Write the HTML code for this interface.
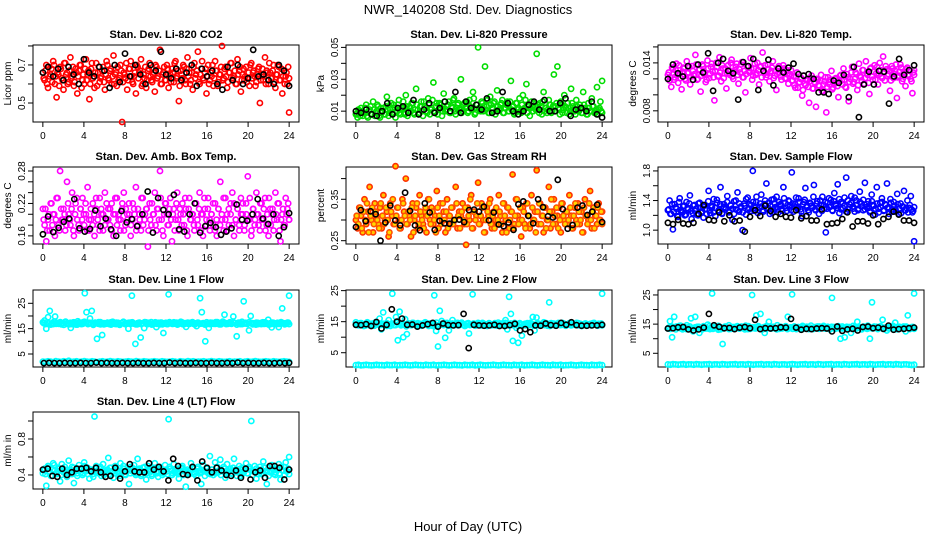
<!DOCTYPE html>
<html><head><meta charset="utf-8"><title>NWR_140208 Std. Dev. Diagnostics</title>
<style>html,body{margin:0;padding:0;background:#fff}svg{display:block;font-family:"Liberation Sans",Arial,sans-serif}</style>
</head><body>
<svg id="chart" width="936" height="540" viewBox="0 0 936 540" xmlns="http://www.w3.org/2000/svg">
<rect width="936" height="540" fill="#fff"/>
<text x="468" y="14" font-size="13" text-anchor="middle">NWR_140208 Std. Dev. Diagnostics</text>
<text x="468" y="531" font-size="13" text-anchor="middle">Hour of Day (UTC)</text>
</svg>
<script>
const xTicks = [0,4,8,12,16,20,24];
const co2Red = [0.66,0.62,0.70,0.58,0.64,0.68,0.72,0.60,0.53,0.65,0.69,0.63,0.57,0.71,0.66,0.61,0.74,0.64,0.59,0.68,0.55,0.67,0.70,0.62,0.60,0.73,0.65,0.52,0.68,0.63,0.58,0.71,0.66,0.61,0.64,0.69,0.57,0.72,0.63,0.67,0.60,0.75,0.65,0.59,0.62,0.70,0.40,0.66,0.63,0.57,0.68,0.72,0.61,0.64,0.55,0.69,0.66,0.73,0.60,0.63,0.58,0.67,0.71,0.62,0.65,0.56,0.69,0.64,0.78,0.60,0.66,0.62,0.70,0.58,0.65,0.68,0.61,0.72,0.64,0.51,0.67,0.63,0.69,0.60,0.74,0.66,0.62,0.57,0.71,0.65,0.77,0.60,0.68,0.63,0.66,0.55,0.70,0.62,0.64,0.59,0.72,0.67,0.61,0.65,0.80,0.63,0.69,0.58,0.66,0.71,0.62,0.64,0.60,0.73,0.67,0.56,0.65,0.62,0.69,0.63,0.59,0.71,0.66,0.64,0.61,0.68,0.50,0.65,0.62,0.74,0.67,0.60,0.66,0.63,0.70,0.58,0.65,0.69,0.62,0.55,0.67,0.64,0.60,0.45];
const co2Red2 = [0.63,0.67,0.60,0.69,0.65,0.61,0.70,0.64,0.66,0.59,0.68,0.62,0.71,0.65,0.60,0.67,0.63,0.69,0.61,0.66,0.64,0.70,0.58,0.65,0.68,0.62,0.67,0.60,0.71,0.64,0.66,0.59,0.69,0.63,0.67,0.61,0.65,0.70,0.62,0.68,0.64,0.60,0.66,0.69,0.63,0.67,0.61,0.65,0.71,0.62,0.68,0.64,0.60,0.66,0.70,0.63,0.67,0.59,0.65,0.69,0.62,0.68,0.64,0.61,0.66,0.70,0.63,0.67,0.60,0.65,0.69,0.62,0.68,0.64,0.61,0.66,0.71,0.63,0.67,0.59,0.65,0.70,0.62,0.68,0.64,0.60,0.66,0.69,0.63,0.67,0.61,0.65,0.72,0.62,0.68,0.64,0.60,0.66,0.70,0.63,0.67,0.59,0.65,0.69,0.62,0.68,0.64,0.61,0.66,0.71,0.63,0.67,0.60,0.65,0.69,0.62,0.68,0.64,0.61,0.66,0.70,0.63,0.67,0.59,0.65,0.69,0.62,0.68,0.64,0.60,0.66,0.71,0.63,0.67,0.61,0.65,0.70,0.62,0.68,0.64,0.60,0.66,0.69,0.63];
const co2Black = [0.66,0.69,0.64,0.68,0.62,0.69,0.65,0.60,0.73,0.66,0.64,0.69,0.67,0.58,0.70,0.61,0.76,0.64,0.70,0.65,0.60,0.70,0.67,0.77,0.65,0.63,0.68,0.62,0.66,0.70,0.59,0.68,0.64,0.67,0.60,0.57,0.69,0.62,0.70,0.60,0.63,0.78,0.64,0.65,0.62,0.60,0.70,0.67,0.59];
const presGreen = [0.008,0.006,0.010,0.012,0.007,0.009,0.014,0.006,0.011,0.008,0.016,0.007,0.010,0.013,0.006,0.009,0.012,0.008,0.019,0.007,0.011,0.009,0.014,0.006,0.010,0.017,0.008,0.012,0.009,0.020,0.007,0.013,0.010,0.015,0.008,0.024,0.011,0.009,0.016,0.007,0.013,0.010,0.018,0.008,0.012,0.028,0.009,0.015,0.011,0.014,0.007,0.021,0.010,0.013,0.016,0.009,0.012,0.018,0.008,0.014,0.011,0.030,0.010,0.015,0.013,0.009,0.017,0.012,0.022,0.008,0.014,0.050,0.011,0.016,0.010,0.038,0.013,0.009,0.019,0.012,0.015,0.008,0.023,0.011,0.014,0.017,0.009,0.012,0.016,0.010,0.029,0.013,0.008,0.015,0.011,0.018,0.009,0.020,0.012,0.027,0.014,0.007,0.016,0.010,0.013,0.046,0.011,0.015,0.008,0.022,0.012,0.009,0.017,0.014,0.010,0.033,0.013,0.038,0.011,0.016,0.009,0.020,0.012,0.015,0.008,0.024,0.013,0.010,0.017,0.011,0.014,0.009,0.022,0.012,0.008,0.015,0.010,0.018,0.013,0.009,0.025,0.011,0.016,0.029];
const presGreen2 = [0.008,0.011,0.007,0.010,0.009,0.012,0.007,0.010,0.013,0.008,0.011,0.009,0.014,0.007,0.012,0.010,0.008,0.013,0.011,0.009,0.015,0.008,0.012,0.010,0.014,0.009,0.011,0.016,0.008,0.013,0.010,0.012,0.015,0.009,0.011,0.014,0.008,0.013,0.010,0.016,0.012,0.009,0.014,0.011,0.017,0.010,0.013,0.008,0.015,0.012,0.010,0.016,0.011,0.014,0.009,0.013,0.017,0.010,0.012,0.015,0.011,0.009,0.014,0.012,0.016,0.010,0.013,0.011,0.018,0.009,0.014,0.012,0.010,0.015,0.013,0.011,0.017,0.009,0.014,0.012,0.016,0.010,0.013,0.011,0.015,0.009,0.012,0.014,0.010,0.016,0.011,0.013,0.009,0.015,0.012,0.010,0.014,0.011,0.017,0.009,0.013,0.012,0.010,0.015,0.011,0.014,0.009,0.013,0.016,0.010,0.012,0.011,0.014,0.009,0.013,0.010,0.015,0.012,0.008,0.014,0.011,0.013,0.009,0.012,0.010,0.015,0.011,0.008,0.013,0.010,0.012,0.009,0.014,0.011,0.008,0.012,0.010,0.013,0.009,0.011,0.008,0.012,0.010,0.009];
const presBlack = [0.010,0.009,0.011,0.008,0.007,0.010,0.015,0.008,0.012,0.013,0.009,0.017,0.008,0.011,0.015,0.009,0.012,0.016,0.010,0.022,0.009,0.016,0.012,0.014,0.011,0.018,0.009,0.010,0.022,0.015,0.010,0.008,0.010,0.014,0.016,0.011,0.017,0.010,0.010,0.015,0.018,0.007,0.011,0.012,0.010,0.016,0.008,0.006];
const tempMag = [0.0125,0.0118,0.0110,0.0132,0.0122,0.0139,0.0115,0.0127,0.0107,0.0134,0.0120,0.0142,0.0128,0.0113,0.0136,0.0124,0.0150,0.0119,0.0131,0.0104,0.0138,0.0126,0.0116,0.0143,0.0121,0.0135,0.0129,0.0093,0.0140,0.0123,0.0147,0.0117,0.0133,0.0127,0.0108,0.0137,0.0125,0.0144,0.0120,0.0131,0.0139,0.0114,0.0128,0.0141,0.0122,0.0103,0.0135,0.0130,0.0146,0.0119,0.0133,0.0125,0.0140,0.0113,0.0136,0.0153,0.0127,0.0122,0.0138,0.0117,0.0130,0.0142,0.0124,0.0106,0.0134,0.0128,0.0119,0.0137,0.0121,0.0131,0.0114,0.0126,0.0118,0.0123,0.0109,0.0128,0.0115,0.0120,0.0099,0.0124,0.0112,0.0118,0.0090,0.0121,0.0108,0.0116,0.0085,0.0119,0.0111,0.0125,0.0104,0.0117,0.0078,0.0122,0.0113,0.0130,0.0109,0.0120,0.0115,0.0097,0.0124,0.0118,0.0133,0.0110,0.0126,0.0092,0.0120,0.0135,0.0116,0.0128,0.0106,0.0139,0.0122,0.0131,0.0114,0.0142,0.0125,0.0101,0.0134,0.0119,0.0137,0.0127,0.0113,0.0140,0.0123,0.0148,0.0118,0.0132,0.0126,0.0105,0.0136,0.0121,0.0130,0.0096,0.0124,0.0138,0.0117,0.0129,0.0111,0.0134,0.0125,0.0120,0.0102,0.0131];
const tempMag2 = [0.0128,0.0122,0.0134,0.0119,0.0131,0.0125,0.0137,0.0121,0.0129,0.0133,0.0118,0.0127,0.0135,0.0123,0.0130,0.0126,0.0138,0.0120,0.0132,0.0124,0.0136,0.0128,0.0119,0.0133,0.0126,0.0139,0.0122,0.0130,0.0135,0.0124,0.0128,0.0137,0.0121,0.0133,0.0127,0.0131,0.0140,0.0123,0.0129,0.0135,0.0125,0.0132,0.0138,0.0122,0.0130,0.0126,0.0136,0.0128,0.0133,0.0124,0.0139,0.0127,0.0131,0.0135,0.0122,0.0129,0.0137,0.0125,0.0132,0.0128,0.0134,0.0121,0.0130,0.0126,0.0136,0.0123,0.0129,0.0133,0.0120,0.0127,0.0124,0.0131,0.0118,0.0112,0.0123,0.0109,0.0116,0.0121,0.0106,0.0114,0.0119,0.0110,0.0117,0.0124,0.0108,0.0115,0.0120,0.0112,0.0118,0.0105,0.0113,0.0122,0.0110,0.0116,0.0119,0.0107,0.0114,0.0121,0.0111,0.0117,0.0125,0.0113,0.0119,0.0109,0.0122,0.0116,0.0128,0.0114,0.0120,0.0126,0.0112,0.0124,0.0118,0.0131,0.0121,0.0127,0.0115,0.0133,0.0123,0.0129,0.0119,0.0135,0.0125,0.0131,0.0121,0.0128,0.0136,0.0124,0.0130,0.0118,0.0133,0.0126,0.0138,0.0122,0.0129,0.0134,0.0120,0.0127,0.0132,0.0124,0.0130,0.0117,0.0128,0.0125];
const tempBlack = [0.0120,0.0138,0.0127,0.0123,0.0136,0.0119,0.0138,0.0128,0.0152,0.0105,0.0140,0.0145,0.0130,0.0127,0.0094,0.0141,0.0136,0.0145,0.0106,0.0130,0.0144,0.0112,0.0133,0.0128,0.0134,0.0139,0.0126,0.0124,0.0126,0.0120,0.0103,0.0103,0.0101,0.0118,0.0115,0.0125,0.0097,0.0135,0.0072,0.0113,0.0129,0.0113,0.0130,0.0129,0.0089,0.0123,0.0145,0.0125,0.0131,0.0137];
const ambMag = [0.21,0.18,0.15,0.19,0.17,0.22,0.20,0.16,0.23,0.18,0.28,0.19,0.21,0.17,0.26,0.20,0.18,0.24,0.16,0.22,0.19,0.17,0.21,0.23,0.18,0.20,0.25,0.17,0.19,0.22,0.16,0.21,0.18,0.23,0.20,0.17,0.24,0.19,0.21,0.18,0.22,0.16,0.20,0.23,0.19,0.17,0.21,0.24,0.18,0.20,0.22,0.16,0.19,0.21,0.25,0.18,0.20,0.17,0.23,0.19,0.21,0.14,0.22,0.18,0.20,0.24,0.17,0.21,0.28,0.19,0.16,0.22,0.20,0.18,0.23,0.15,0.21,0.19,0.24,0.17,0.20,0.22,0.18,0.21,0.16,0.23,0.19,0.20,0.17,0.22,0.18,0.24,0.20,0.16,0.21,0.19,0.23,0.17,0.20,0.18,0.22,0.16,0.21,0.26,0.19,0.17,0.23,0.20,0.18,0.22,0.24,0.16,0.19,0.21,0.18,0.23,0.20,0.17,0.22,0.27,0.19,0.16,0.21,0.18,0.24,0.20,0.17,0.22,0.19,0.23,0.18,0.16,0.21,0.20,0.17,0.24,0.19,0.22,0.15,0.20,0.18,0.23,0.21,0.19];
const ambMag2 = [0.19,0.21,0.17,0.20,0.22,0.18,0.20,0.19,0.23,0.17,0.21,0.19,0.20,0.18,0.22,0.19,0.21,0.17,0.20,0.23,0.18,0.21,0.19,0.20,0.22,0.17,0.19,0.21,0.18,0.20,0.23,0.19,0.17,0.21,0.20,0.18,0.22,0.19,0.21,0.17,0.20,0.23,0.18,0.20,0.19,0.22,0.17,0.21,0.19,0.20,0.18,0.22,0.20,0.17,0.21,0.19,0.23,0.18,0.20,0.21,0.17,0.19,0.22,0.20,0.18,0.21,0.19,0.23,0.17,0.20,0.22,0.18,0.21,0.19,0.20,0.17,0.22,0.19,0.21,0.18,0.20,0.23,0.17,0.21,0.19,0.20,0.18,0.22,0.19,0.21,0.17,0.20,0.23,0.18,0.21,0.19,0.20,0.22,0.17,0.19,0.21,0.18,0.20,0.23,0.19,0.17,0.21,0.20,0.18,0.22,0.19,0.21,0.17,0.20,0.22,0.18,0.20,0.19,0.23,0.17,0.21,0.19,0.20,0.18,0.22,0.19,0.21,0.17,0.20,0.23,0.18,0.21,0.19,0.20,0.22,0.17,0.19,0.21,0.18,0.20,0.22,0.19];
const ambBlack = [0.163,0.196,0.167,0.175,0.186,0.192,0.228,0.174,0.168,0.173,0.207,0.178,0.192,0.172,0.160,0.206,0.185,0.191,0.178,0.200,0.242,0.166,0.230,0.208,0.200,0.236,0.172,0.168,0.200,0.220,0.166,0.178,0.184,0.176,0.162,0.168,0.174,0.218,0.190,0.188,0.200,0.228,0.192,0.182,0.200,0.160,0.176,0.202];
const rhOrange = [0.30,0.28,0.33,0.31,0.27,0.35,0.29,0.32,0.38,0.30,0.27,0.34,0.31,0.29,0.33,0.28,0.36,0.30,0.32,0.26,0.34,0.31,0.29,0.43,0.33,0.30,0.28,0.35,0.32,0.40,0.29,0.31,0.26,0.34,0.30,0.33,0.28,0.36,0.31,0.29,0.32,0.27,0.35,0.30,0.33,0.29,0.31,0.37,0.28,0.34,0.30,0.32,0.27,0.35,0.31,0.29,0.33,0.30,0.38,0.28,0.32,0.31,0.34,0.29,0.24,0.33,0.30,0.36,0.28,0.32,0.31,0.39,0.29,0.34,0.30,0.27,0.33,0.31,0.35,0.28,0.32,0.30,0.29,0.36,0.31,0.27,0.34,0.30,0.33,0.28,0.32,0.41,0.29,0.35,0.31,0.30,0.26,0.33,0.29,0.34,0.31,0.28,0.36,0.30,0.32,0.42,0.29,0.34,0.31,0.27,0.33,0.30,0.38,0.28,0.32,0.35,0.29,0.31,0.33,0.27,0.34,0.30,0.32,0.29,0.36,0.31,0.28,0.33,0.30,0.34,0.29,0.32,0.27,0.35,0.31,0.30,0.37,0.28,0.33,0.31,0.29,0.34,0.30,0.32];
const rhOrange2 = [0.31,0.29,0.33,0.28,0.32,0.30,0.34,0.27,0.31,0.33,0.29,0.32,0.30,0.28,0.34,0.31,0.29,0.33,0.30,0.27,0.32,0.35,0.29,0.31,0.33,0.28,0.30,0.34,0.31,0.29,0.32,0.30,0.33,0.27,0.31,0.34,0.29,0.32,0.30,0.28,0.33,0.31,0.35,0.29,0.32,0.30,0.27,0.33,0.31,0.29,0.34,0.30,0.32,0.28,0.31,0.33,0.29,0.30,0.34,0.31,0.28,0.32,0.30,0.33,0.29,0.31,0.35,0.28,0.32,0.30,0.34,0.29,0.31,0.33,0.27,0.30,0.32,0.34,0.29,0.31,0.28,0.33,0.30,0.32,0.29,0.34,0.31,0.27,0.33,0.30,0.32,0.28,0.31,0.35,0.29,0.33,0.30,0.32,0.28,0.34,0.31,0.29,0.33,0.30,0.27,0.32,0.34,0.29,0.31,0.33,0.28,0.30,0.32,0.35,0.29,0.31,0.33,0.28,0.30,0.34,0.31,0.29,0.32,0.30,0.33,0.28,0.31,0.34,0.29,0.32,0.30,0.27,0.33,0.31,0.29,0.34,0.30,0.32,0.28,0.31,0.33,0.30,0.32,0.29];
const rhBlack = [0.283,0.324,0.297,0.321,0.314,0.250,0.294,0.335,0.299,0.287,0.366,0.322,0.287,0.275,0.340,0.318,0.276,0.298,0.292,0.291,0.300,0.301,0.295,0.324,0.325,0.320,0.332,0.299,0.318,0.289,0.285,0.294,0.276,0.338,0.345,0.310,0.292,0.350,0.331,0.309,0.306,0.397,0.326,0.279,0.288,0.330,0.335,0.312,0.320,0.337,0.295];
const flowBlue = [1.27,1.40,1.22,1.01,1.35,1.29,1.18,1.43,1.25,1.32,1.20,1.38,1.28,1.47,1.15,1.33,1.26,1.21,1.36,1.30,1.24,1.17,1.34,1.28,1.53,1.23,1.31,1.42,1.19,1.37,1.27,1.58,1.22,1.35,1.30,1.46,1.24,1.33,1.14,1.39,1.28,1.51,1.25,1.32,1.00,1.36,1.21,1.44,1.29,1.34,1.80,1.26,1.38,1.23,1.31,1.48,1.27,1.35,1.63,1.30,1.22,1.41,1.28,1.36,1.45,1.24,1.33,1.29,1.58,1.37,1.26,1.40,1.32,1.78,1.25,1.35,1.31,1.43,1.28,1.19,1.38,1.57,1.33,1.24,1.36,1.30,1.61,1.27,1.39,1.22,1.34,1.45,1.29,0.97,1.37,1.31,1.41,1.26,1.50,1.33,1.62,1.23,1.38,1.30,1.44,1.71,1.28,1.35,1.46,1.32,1.25,1.40,1.29,1.52,1.36,1.27,1.64,1.31,1.39,1.24,1.48,1.34,1.21,1.58,1.29,1.37,1.43,1.26,1.35,1.63,1.31,1.42,1.25,1.38,1.28,1.49,1.22,1.36,1.32,1.53,1.27,1.40,1.30,1.46,1.24,0.85];
const flowBlue2 = [1.28,1.22,1.35,1.25,1.31,1.19,1.38,1.27,1.24,1.33,1.21,1.30,1.36,1.26,1.23,1.34,1.29,1.20,1.37,1.25,1.32,1.28,1.22,1.39,1.27,1.33,1.24,1.30,1.41,1.26,1.35,1.23,1.31,1.28,1.38,1.25,1.34,1.29,1.22,1.40,1.27,1.36,1.31,1.24,1.33,1.42,1.28,1.35,1.26,1.38,1.30,1.45,1.27,1.36,1.32,1.25,1.40,1.29,1.37,1.33,1.24,1.42,1.31,1.28,1.38,1.35,1.26,1.43,1.30,1.34,1.39,1.27,1.36,1.32,1.44,1.29,1.38,1.25,1.35,1.41,1.31,1.27,1.37,1.33,1.45,1.28,1.36,1.30,1.40,1.26,1.34,1.38,1.29,1.43,1.32,1.27,1.39,1.35,1.30,1.42,1.28,1.36,1.33,1.25,1.40,1.31,1.37,1.29,1.44,1.34,1.27,1.38,1.32,1.41,1.28,1.35,1.30,1.26,1.39,1.33,1.29,1.36,1.24,1.31,1.38,1.27,1.34,1.30,1.22,1.37,1.28,1.33,1.25,1.35,1.29,1.23,1.32,1.27,1.30,1.24,1.34,1.28,1.26,1.31];
const flowBlack = [1.10,1.08,1.14,1.09,1.08,1.10,1.22,1.34,1.14,1.13,1.24,1.12,1.20,1.12,1.13,0.98,1.18,1.27,1.19,1.33,1.26,1.18,1.22,1.18,1.17,1.27,1.16,1.19,1.13,1.13,1.28,1.08,1.09,1.10,1.15,1.24,1.05,1.12,1.12,1.09,1.20,1.08,1.15,1.18,1.25,1.21,1.13,1.13,1.10];
const line1Upper = [17.5,18.2,15.0,19.5,22.0,17.0,16.8,19.8,17.3,16.9,17.6,17.1,16.5,17.8,17.2,16.7,15.3,17.4,17.0,16.6,17.9,17.2,16.8,17.5,29.0,21.5,17.1,19.0,22.0,16.9,17.3,11.0,17.6,16.7,12.5,17.2,16.9,17.4,17.0,16.6,17.7,17.2,16.8,17.3,16.5,17.1,17.6,16.9,17.2,15.0,17.4,28.0,17.0,9.0,16.7,17.3,11.5,17.1,15.2,17.5,16.8,17.2,17.6,16.9,17.0,15.6,17.3,16.7,17.4,13.3,17.1,16.8,28.5,17.2,16.9,17.5,17.0,16.6,17.3,17.7,16.8,17.1,15.7,17.4,16.9,17.2,17.0,16.7,16.0,17.3,27.0,21.5,17.1,10.0,16.8,15.3,17.4,17.0,16.9,17.6,17.2,16.7,17.3,17.8,20.5,17.1,16.9,17.5,17.0,19.8,17.2,12.0,17.4,16.8,17.7,25.8,17.1,16.9,14.3,20.0,17.2,17.0,16.6,17.3,17.1,16.8,17.5,16.9,17.2,18.5,16.7,15.5,17.3,17.0,16.8,15.6,17.2,23.0,17.1,16.9,17.4,28.0];
const line1Upper2 = [17.2,16.8,17.5,17.0,16.6,17.3,17.8,16.9,17.1,17.4,16.7,17.2,17.6,16.9,17.0,17.3,16.8,17.5,17.1,16.6,17.4,17.0,16.9,17.7,17.2,16.8,17.3,17.0,16.5,17.4,17.1,16.9,17.6,17.2,16.7,17.0,17.3,16.8,17.5,17.1,16.9,17.4,17.0,16.6,17.2,17.7,16.8,17.1,17.3,16.9,17.5,17.0,16.7,17.2,17.4,16.8,17.1,17.6,16.9,17.3,17.0,16.6,17.2,17.5,16.9,17.1,17.4,16.7,17.0,17.3,16.8,17.6,17.2,16.9,17.0,17.4,16.8,17.1,17.5,16.7,17.2,17.0,16.9,17.3,17.6,16.8,17.1,17.4,16.9,17.0,17.2,16.6,17.5,17.1,16.8,17.3,17.0,16.9,17.6,17.2,16.7,17.1,17.4,16.8,17.0,17.3,16.9,17.5,17.2,16.6,17.1,17.4,16.8,17.0,17.3,16.9,17.6,17.2,16.7,17.1,17.4,16.8,17.0,17.3,16.9,17.5,17.1,16.6,17.2,17.4,16.8,17.0,17.3,16.9,17.6,17.2,16.7,17.1,17.4,16.8];
const line1Lower = [2.0,1.9,2.1,2.0,1.8,2.2,2.0,1.9,2.1,2.0,2.3,1.9,2.0,2.1,1.9,2.0,2.2,2.0,1.9,2.1,2.0,1.8,2.0,2.1,1.9,2.0,2.2,2.0,1.9,2.1,2.0,1.9,2.0,2.1,2.0,1.9,2.2,2.0,1.9,2.1,2.0,1.9,2.0,2.1,2.0,1.9,2.1,2.0,1.9,2.0,2.1,2.0,1.8,2.1,2.0,1.9,2.2,2.0,2.1,1.9,2.0,2.0,2.1,1.9,2.0,2.2,2.0,1.9,2.1,2.0,1.9,2.0,2.1,1.9,2.0,2.0,2.1,1.8,2.0,2.1,1.9,2.0,2.2,2.0,1.9,2.0,2.1,2.0,1.9,2.1,2.0,1.9,2.0,2.1,2.0,1.9];
const line1Black = [1.4,1.5,1.4,1.4,1.5,1.4,1.4,1.5,1.4,1.4,1.6,1.4,1.5,1.4,1.4,1.5,1.4,1.4,1.5,1.4,1.4,1.5,1.4,1.4,1.6,1.4,1.5,1.4,1.4,1.5,1.4,1.4,1.5,1.4,1.4,1.5,1.4,1.6,1.4,1.5,1.4,1.4,1.5,1.4,1.4,1.5,1.4,1.5];
const line2Upper = [14.8,14.2,13.9,14.5,14.1,13.7,14.6,14.0,14.3,13.8,14.4,14.9,14.1,16.0,12.5,18.0,14.3,13.6,15.5,14.2,24.0,13.9,16.5,9.0,18.2,14.1,10.0,15.8,11.0,14.4,13.9,14.6,14.2,13.8,14.5,14.0,13.7,14.3,14.8,14.1,13.6,14.4,14.0,23.5,12.0,7.0,18.5,15.2,14.3,9.8,14.6,12.2,13.9,15.5,14.1,14.5,13.8,14.2,14.7,14.0,13.7,14.4,11.2,14.2,23.8,13.9,14.3,14.6,14.0,13.8,14.4,14.1,13.6,14.5,14.2,13.9,14.3,14.0,14.7,13.8,14.4,14.1,15.5,12.5,23.0,17.5,8.8,14.6,13.0,8.2,14.3,10.5,14.1,13.8,14.5,14.0,14.2,16.5,12.2,16.3,14.4,13.9,14.3,14.8,14.1,13.7,21.2,14.5,14.0,14.3,13.8,14.6,14.2,14.0,14.4,13.7,14.1,14.5,13.9,14.2,14.0,14.6,13.8,14.3,14.1,13.9,14.4,14.0,14.2,13.8,14.5,14.1,13.9,14.3,14.0,24.0];
const line2Upper2 = [14.2,13.8,14.5,14.0,13.6,14.3,14.8,13.9,14.1,14.4,13.7,14.2,14.6,13.9,14.0,14.3,13.8,14.5,14.1,13.6,14.4,14.0,13.9,14.7,14.2,13.8,14.3,14.0,13.5,14.4,14.1,13.9,14.6,14.2,13.7,14.0,14.3,13.8,14.5,14.1,13.9,14.4,14.0,13.6,14.2,14.7,13.8,14.1,14.3,13.9,14.5,14.0,13.7,14.2,14.4,13.8,14.1,14.6,13.9,14.3,14.0,13.6,14.2,14.5,13.9,14.1,14.4,13.7,14.0,14.3,13.8,14.6,14.2,13.9,14.0,14.4,13.8,14.1,14.5,13.7,14.2,14.0,13.9,14.3,14.6,13.8,14.1,14.4,13.9,14.0,14.2,13.6,14.5,14.1,13.8,14.3,14.0,13.9,14.6,14.2,13.7,14.1,14.4,13.8,14.0,14.3,13.9,14.5,14.2,13.6,14.1,14.4,13.8,14.0,14.3,13.9,14.6,14.2,13.7,14.1,14.4,13.8,14.0,14.3,13.9,14.5,14.1,13.6,14.2,14.4,13.8,14.0,14.3,13.9,14.6,14.2,13.7,14.1,14.4,13.8];
const line2Lower = [1.0,1.1,0.9,1.0,1.1,1.0,0.9,1.0,1.1,1.0,1.0,0.9,1.1,1.0,1.0,1.1,0.9,1.0,1.0,1.1,1.0,0.9,1.0,1.1,1.0,1.0,0.9,1.1,1.0,1.0,1.1,0.9,1.0,1.0,1.1,1.0,0.9,1.0,1.1,1.0,1.0,0.9,1.1,1.0,1.0,1.1,0.9,1.0,1.1,1.0,0.9,1.0,1.0,1.1,1.0,0.9,1.0,1.1,1.0,1.0,0.9,1.1,1.0,1.0,1.1,0.9,1.0,1.0,1.1,1.0,0.9,1.0,1.1,1.0,1.0,0.9,1.1,1.0,1.0,1.1,0.9,1.0,1.0,1.1,1.0,0.9,1.0,1.1,1.0,1.0,0.9,1.1,1.0,1.0,1.1,1.0];
const line2Black = [14.0,13.9,14.2,13.6,14.9,12.8,14.0,19.0,15.0,16.0,14.0,14.1,13.4,13.8,14.2,14.6,13.4,14.4,13.9,13.8,13.9,17.5,6.5,14.0,13.8,13.7,13.8,14.0,13.6,13.6,13.9,14.3,12.2,12.6,11.6,13.8,13.7,14.4,13.9,13.7,14.6,14.0,14.8,13.9,13.7,13.7,13.8,13.8,14.0];
const line3Upper = [13.5,16.0,10.5,17.5,14.2,13.8,14.5,13.2,13.9,14.6,13.4,17.0,12.5,17.5,14.1,12.0,13.7,14.3,13.5,14.8,13.3,25.5,14.0,13.6,14.4,13.2,8.2,14.1,13.8,14.6,13.4,14.0,13.7,14.3,13.5,14.2,13.9,14.5,13.3,14.0,25.0,13.6,18.0,14.3,18.5,13.2,12.0,14.4,15.8,13.7,14.1,13.5,14.6,13.4,14.0,13.8,14.3,17.5,13.6,25.2,14.2,13.3,14.0,13.9,14.4,13.5,14.1,13.7,14.5,13.3,14.0,13.8,14.2,13.6,14.4,13.5,14.1,13.2,24.0,14.0,13.7,14.3,10.0,13.5,10.5,14.1,13.8,12.0,14.4,13.6,15.8,14.0,13.3,14.2,13.9,14.5,10.0,22.5,13.7,14.1,13.5,14.3,16.5,13.8,12.8,14.0,13.6,14.4,15.5,13.2,14.1,13.9,14.2,12.5,18.0,13.7,14.0,25.5];
const line3Upper2 = [13.8,13.4,14.1,13.6,13.2,13.9,14.4,13.5,13.7,14.0,13.3,13.8,14.2,13.5,13.6,13.9,13.4,14.1,13.7,13.2,14.0,13.6,13.5,14.3,13.8,13.4,13.9,13.6,13.1,14.0,13.7,13.5,14.2,13.8,13.3,13.6,13.9,13.4,14.1,13.7,13.5,14.0,13.6,13.2,13.8,14.3,13.4,13.7,13.9,13.5,14.1,13.6,13.3,13.8,14.0,13.4,13.7,14.2,13.5,13.9,13.6,13.2,13.8,14.1,13.5,13.7,14.0,13.3,13.6,13.9,13.4,14.2,13.8,13.5,13.6,14.0,13.4,13.7,14.1,13.3,13.8,13.6,13.5,13.9,14.2,13.4,13.7,14.0,13.5,13.6,13.8,13.2,14.1,13.7,13.4,13.9,13.6,13.5,14.2,13.8,13.3,13.7,14.0,13.4,13.6,13.9,13.5,14.1,13.8,13.2,13.7,14.0,13.4,13.6,13.9,13.5,14.2,13.8,13.3,13.7,14.0,13.4,13.6,13.9,13.5,14.1,13.7,13.2,13.8,14.0,13.4,13.6,13.9,13.5,14.2,13.8,13.3,13.7,14.0,13.4];
const line3Lower = [1.2,1.1,1.3,1.2,1.1,1.2,1.3,1.1,1.2,1.2,1.1,1.3,1.2,1.1,1.2,1.2,1.3,1.1,1.2,1.2,1.1,1.3,1.2,1.1,1.2,1.2,1.3,1.1,1.2,1.2,1.1,1.3,1.2,1.1,1.2,1.2,1.3,1.1,1.2,1.2,1.1,1.3,1.2,1.1,1.2,1.2,1.1,1.2,1.3,1.2,1.1,1.2,1.2,1.3,1.1,1.2,1.2,1.1,1.3,1.2,1.1,1.2,1.2,1.3,1.1,1.2,1.2,1.1,1.3,1.2,1.1,1.2,1.2,1.3,1.1,1.2,1.2,1.1,1.3,1.2,1.1,1.2,1.2,1.3,1.1,1.2,1.2,1.1,1.3,1.2,1.1,1.2,1.2,1.1,1.0,1.1];
const line3Black = [13.5,13.6,13.9,14.0,13.2,12.8,13.2,13.8,18.5,14.6,14.1,13.6,13.7,13.3,13.8,14.0,13.6,16.5,13.3,13.6,13.5,13.6,13.9,13.8,16.8,13.8,13.1,13.4,13.3,13.5,13.6,13.5,12.5,14.2,12.7,13.2,13.4,12.8,14.0,14.2,13.6,13.8,13.4,14.5,13.1,13.3,13.4,13.6,13.8];
const line4Cyan = [0.42,0.47,0.28,0.50,0.44,0.39,0.53,0.45,0.41,0.48,0.33,0.52,0.43,0.46,0.38,0.56,0.44,0.49,0.31,0.45,0.42,0.51,0.47,0.40,0.54,0.44,0.48,0.36,0.46,0.41,1.05,0.50,0.43,0.47,0.39,0.52,0.45,0.42,0.59,0.48,0.44,0.37,0.50,0.46,0.41,0.53,0.43,0.47,0.40,0.45,0.30,0.49,0.44,0.51,0.42,0.58,0.46,0.39,0.48,0.43,0.35,0.50,0.45,0.41,0.47,0.53,0.44,0.38,0.49,0.46,0.42,0.51,0.44,1.02,0.47,0.40,0.52,0.45,0.43,0.36,0.48,0.50,0.44,0.27,0.46,0.41,0.53,0.47,0.43,0.39,0.49,0.45,0.30,0.51,0.44,0.47,0.42,0.61,0.46,0.40,0.54,0.48,0.43,0.57,0.45,0.49,0.37,0.52,0.44,0.47,0.41,0.58,0.46,0.43,0.50,0.39,0.48,0.45,0.53,0.42,0.47,1.00,0.44,0.50,0.36,0.46,0.49,0.41,0.55,0.44,0.30,0.48,0.43,0.51,0.46,0.40,0.47,0.52,0.35,0.45,0.49,0.54,0.44,0.60];
const line4Cyan2 = [0.45,0.41,0.48,0.43,0.39,0.46,0.51,0.42,0.44,0.47,0.40,0.45,0.49,0.42,0.43,0.46,0.41,0.48,0.44,0.39,0.47,0.43,0.42,0.50,0.45,0.41,0.46,0.43,0.38,0.47,0.44,0.42,0.49,0.45,0.40,0.43,0.46,0.41,0.48,0.44,0.42,0.47,0.43,0.39,0.45,0.50,0.41,0.44,0.46,0.42,0.48,0.43,0.40,0.45,0.47,0.41,0.44,0.49,0.42,0.46,0.43,0.39,0.45,0.48,0.42,0.44,0.47,0.40,0.43,0.46,0.41,0.49,0.45,0.42,0.43,0.47,0.41,0.44,0.48,0.40,0.45,0.43,0.42,0.46,0.49,0.41,0.44,0.47,0.42,0.43,0.45,0.39,0.48,0.44,0.41,0.46,0.43,0.42,0.49,0.45,0.40,0.44,0.47,0.41,0.43,0.46,0.42,0.48,0.45,0.39,0.44,0.47,0.41,0.43,0.46,0.42,0.49,0.45,0.40,0.44,0.47,0.41,0.43,0.46,0.42,0.48,0.44,0.39,0.45,0.47,0.41,0.43,0.46,0.42,0.49,0.45,0.40,0.44,0.47,0.41];
const line4Black = [0.46,0.47,0.39,0.38,0.47,0.40,0.43,0.47,0.47,0.48,0.44,0.48,0.43,0.38,0.39,0.48,0.36,0.44,0.52,0.44,0.43,0.43,0.53,0.46,0.49,0.44,0.34,0.58,0.50,0.41,0.40,0.49,0.34,0.55,0.48,0.43,0.48,0.45,0.40,0.39,0.45,0.37,0.47,0.35,0.43,0.45,0.37,0.50,0.50,0.48,0.35,0.46];

const panels = [
 {name:'co2',title:'Stan. Dev. Li-820 CO2',ylab:'Licor ppm',col:0,row:0,ymin:0.40,ymax:0.805,ticks:[0.5,0.6,0.7,0.8],labels:[0.5,0.7],dec:1,series:[[co2Red,'#ff0000','none',0],[co2Red2,'#ff0000','none',0.08],[co2Black,'#000','none',0]]},
 {name:'pressure',title:'Stan. Dev. Li-820 Pressure',ylab:'kPa',col:1,row:0,ymin:0.0032,ymax:0.0515,ticks:[0.01,0.02,0.03,0.04,0.05],labels:[0.01,0.03,0.05],dec:2,series:[[presGreen,'#00dd00','none',0],[presGreen2,'#00dd00','none',0.08],[presBlack,'#000','none',0]]},
 {name:'temp',title:'Stan. Dev. Li-820 Temp.',ylab:'degrees C',col:2,row:0,ymin:0.0066,ymax:0.01624,ticks:[0.008,0.010,0.012,0.014,0.016],labels:[0.008,0.014],dec:3,series:[[tempMag,'#ff00ff','none',0],[tempMag2,'#ff00ff','none',0.08],[tempBlack,'#000','none',0]]},
 {name:'amb-box',title:'Stan. Dev. Amb. Box Temp.',ylab:'degrees C',col:0,row:1,ymin:0.145,ymax:0.2874,ticks:[0.16,0.18,0.20,0.22,0.24,0.26,0.28],labels:[0.16,0.22,0.28],dec:2,series:[[ambMag,'#ff00ff','none',0],[ambMag2,'#ff00ff','none',0.08],[ambBlack,'#000','none',0]]},
 {name:'rh',title:'Stan. Dev. Gas Stream RH',ylab:'percent',col:1,row:1,ymin:0.242,ymax:0.428,ticks:[0.25,0.30,0.35,0.40],labels:[0.25,0.35],dec:2,series:[[rhOrange,'#ff3000','#ffc800',0],[rhOrange2,'#ff5000','#ffd800',0.08],[rhBlack,'#000','none',0]]},
 {name:'sample-flow',title:'Stan. Dev. Sample Flow',ylab:'ml/min',col:2,row:1,ymin:0.813,ymax:1.853,ticks:[1.0,1.2,1.4,1.6,1.8],labels:[1.0,1.4,1.8],dec:1,series:[[flowBlue,'#0000ff','none',0],[flowBlue2,'#0000ff','none',0.08],[flowBlack,'#000','none',0]]},
 {name:'line1',title:'Stan. Dev. Line 1 Flow',ylab:'ml/min',col:0,row:2,ymin:-0.13,ymax:30.25,ticks:[5,10,15,20,25],labels:[5,15,25],dec:0,series:[[line1Upper,'#00ffff','none',0],[line1Upper2,'#00ffff','none',0.08],[line1Lower,'#00ffff','none',0],[line1Black,'#000','none',0.1]]},
 {name:'line2',title:'Stan. Dev. Line 2 Flow',ylab:'ml/min',col:1,row:2,ymin:0.4,ymax:25.2,ticks:[5,10,15,20,25],labels:[5,15,25],dec:0,series:[[line2Upper,'#00ffff','none',0],[line2Upper2,'#00ffff','none',0.08],[line2Lower,'#00ffff','none',0],[line2Black,'#000','none',0]]},
 {name:'line3',title:'Stan. Dev. Line 3 Flow',ylab:'ml/min',col:2,row:2,ymin:0.3,ymax:26.7,ticks:[5,10,15,20,25],labels:[5,15,25],dec:0,series:[[line3Upper,'#00ffff','none',0],[line3Upper2,'#00ffff','none',0.08],[line3Lower,'#00ffff','none',0],[line3Black,'#000','none',0]]},
 {name:'line4',title:'Stan. Dev. Line 4 (LT) Flow',ylab:'ml/m in',col:0,row:3,ymin:0.244,ymax:1.1,ticks:[0.4,0.6,0.8,1.0],labels:[0.4,0.8],dec:1,series:[[line4Cyan,'#00ffff','none',0],[line4Cyan2,'#00ffff','none',0.08],[line4Black,'#000','none',0]]}
];
const colLeft=[33,346,658], rowTop=[45,167,290,412], W=266, H=77;
const NS='http://www.w3.org/2000/svg';
const svg=document.getElementById('chart');
function mk(tag,attrs,parent){const e=document.createElementNS(NS,tag);for(const k in attrs)e.setAttribute(k,attrs[k]);(parent||svg).appendChild(e);return e;}
panels.forEach(p=>{
  const L=colLeft[p.col],T=rowTop[p.row];
  const g=mk('g',{});
  
  
  const xs=h=>L+(h+0.96)/25.92*W;
  const ys=v=>T+H-(v-p.ymin)/(p.ymax-p.ymin)*H;
  const box=mk('rect',{x:L,y:T,width:W,height:H,fill:'none',stroke:'#000','stroke-width':1},g);
  
  
  const t=mk('text',{x:L+W/2,y:T-7,'font-size':11,'font-weight':'bold','text-anchor':'middle'},g);
  t.textContent=p.title;
  
  
  const yl=mk('text',{x:0,y:0,'font-size':10,'text-anchor':'middle',transform:`translate(${L-22},${T+H/2}) rotate(-90)`},g);
  yl.textContent=p.ylab;
  
  
  xTicks.forEach(h=>{
    const x=xs(h);
    const tk=mk('line',{x1:x,x2:x,y1:T+H,y2:T+H+5,stroke:'#000'},g);
    
    
    const lb=mk('text',{x:x,y:T+H+17,'font-size':10,'text-anchor':'middle'},g);
    lb.textContent=h;
    
    
  });
  p.ticks.forEach(v=>{
    const y=ys(v);
    const tk=mk('line',{x1:L-5,x2:L,y1:y,y2:y,stroke:'#000'},g);
    
    
  });
  p.labels.forEach(v=>{
    const y=ys(v);
    const lb=mk('text',{x:0,y:0,'font-size':10,'text-anchor':'middle',transform:`translate(${L-8},${y}) rotate(-90)`},g);
    lb.textContent=v.toFixed(p.dec);
    
    
  });
  p.series.forEach((s,si)=>{
    const vals=s[0],n=vals.length,shift=s[3];
    const sg=mk('g',{},g);
    
    
    vals.forEach((v,i)=>{
      const h=Math.min(24,24*i/(n-1)+shift);
      const c=mk('circle',{cx:xs(h).toFixed(1),cy:ys(v).toFixed(1),r:2.6,fill:s[2],stroke:s[1],'stroke-width':1.6},sg);
      
      
    });
  });
});
</script>
</body></html>
